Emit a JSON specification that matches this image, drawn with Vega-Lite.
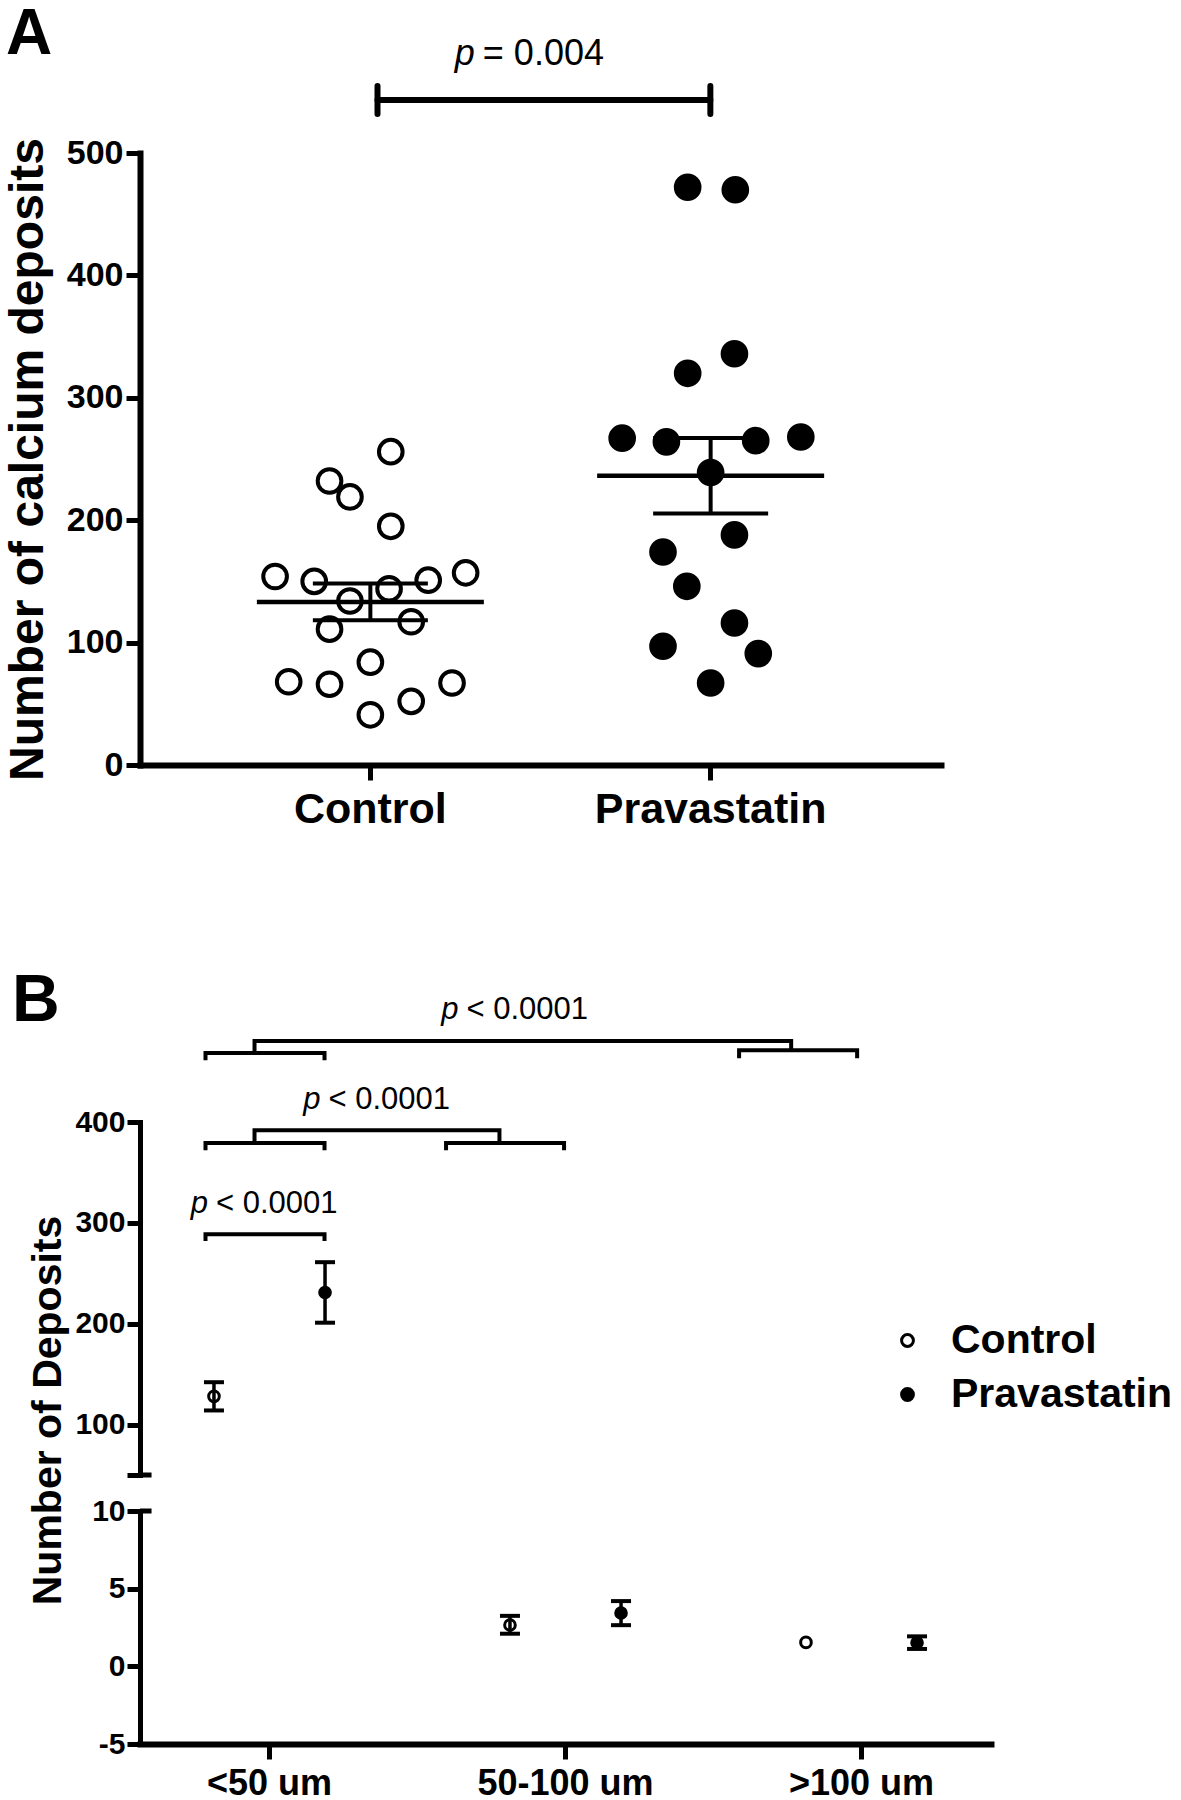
{
  "$schema": "https://vega.github.io/schema/vega-lite/v6.json",
  "background": "white",
  "padding": {"left": 4, "top": 2, "right": 3, "bottom": 0},
  "bounds": "flush",
  "spacing": 357,
  "resolve": {"scale": {"fill": "independent"}},
  "config": {
    "font": "Liberation Sans",
    "view": {"stroke": null},
    "axis": {"domainColor": "black", "tickColor": "black", "labelColor": "black", "titleColor": "black", "grid": false, "labelFontWeight": "bold", "titleFontWeight": "bold", "domainCap": "square", "labelOverlap": false, "labelLimit": 0}
  },
  "datasets": {
    "a": [
      {"group": "Control", "value": 256, "jitter": 0.12},
      {"group": "Control", "value": 232, "jitter": -0.24},
      {"group": "Control", "value": 219, "jitter": -0.12},
      {"group": "Control", "value": 195, "jitter": 0.12},
      {"group": "Control", "value": 154, "jitter": -0.56},
      {"group": "Control", "value": 150, "jitter": -0.33},
      {"group": "Control", "value": 144, "jitter": 0.11},
      {"group": "Control", "value": 151, "jitter": 0.34},
      {"group": "Control", "value": 157, "jitter": 0.56},
      {"group": "Control", "value": 134, "jitter": -0.12},
      {"group": "Control", "value": 111, "jitter": -0.24},
      {"group": "Control", "value": 117, "jitter": 0.24},
      {"group": "Control", "value": 84, "jitter": 0},
      {"group": "Control", "value": 68, "jitter": -0.48},
      {"group": "Control", "value": 66, "jitter": -0.24},
      {"group": "Control", "value": 67, "jitter": 0.48},
      {"group": "Control", "value": 52, "jitter": 0.24},
      {"group": "Control", "value": 41, "jitter": 0},
      {"group": "Pravastatin", "value": 472, "jitter": -0.135},
      {"group": "Pravastatin", "value": 470, "jitter": 0.145},
      {"group": "Pravastatin", "value": 320, "jitter": -0.135},
      {"group": "Pravastatin", "value": 336, "jitter": 0.14},
      {"group": "Pravastatin", "value": 267, "jitter": -0.52},
      {"group": "Pravastatin", "value": 264, "jitter": -0.26},
      {"group": "Pravastatin", "value": 265, "jitter": 0.265},
      {"group": "Pravastatin", "value": 268, "jitter": 0.53},
      {"group": "Pravastatin", "value": 239, "jitter": 0},
      {"group": "Pravastatin", "value": 188, "jitter": 0.14},
      {"group": "Pravastatin", "value": 174, "jitter": -0.28},
      {"group": "Pravastatin", "value": 146, "jitter": -0.14},
      {"group": "Pravastatin", "value": 116, "jitter": 0.14},
      {"group": "Pravastatin", "value": 97, "jitter": -0.28},
      {"group": "Pravastatin", "value": 91, "jitter": 0.28},
      {"group": "Pravastatin", "value": 67, "jitter": 0}
    ],
    "b": [
      {"size": "<50 um", "group": "Control", "mean": 128, "lo": 114, "hi": 142},
      {"size": "<50 um", "group": "Pravastatin", "mean": 231, "lo": 201, "hi": 261},
      {"size": "50-100 um", "group": "Control", "mean": 2.66, "lo": 2.1, "hi": 3.25},
      {"size": "50-100 um", "group": "Pravastatin", "mean": 3.43, "lo": 2.65, "hi": 4.2},
      {"size": ">100 um", "group": "Control", "mean": 1.54, "lo": null, "hi": null},
      {"size": ">100 um", "group": "Pravastatin", "mean": 1.52, "lo": 1.12, "hi": 1.93}
    ],
    "bbr": [
      {"id": 1, "k": 1, "x": -0.2156, "y": 281.9}, {"id": 1, "k": 2, "x": -0.2156, "y": 288.6}, {"id": 1, "k": 3, "x": 0.1867, "y": 288.6}, {"id": 1, "k": 4, "x": 0.1867, "y": 281.9},
      {"id": 2, "k": 1, "x": -0.2156, "y": 371.9}, {"id": 2, "k": 2, "x": -0.2156, "y": 379.2}, {"id": 2, "k": 3, "x": 0.1867, "y": 379.2}, {"id": 2, "k": 4, "x": 0.1867, "y": 371.9},
      {"id": 3, "k": 1, "x": 0.5975, "y": 371.9}, {"id": 3, "k": 2, "x": 0.5975, "y": 379.2}, {"id": 3, "k": 3, "x": 0.9964, "y": 379.2}, {"id": 3, "k": 4, "x": 0.9964, "y": 371.9},
      {"id": 4, "k": 1, "x": -0.0499, "y": 379.2}, {"id": 4, "k": 2, "x": -0.0499, "y": 391.8}, {"id": 4, "k": 3, "x": 0.778, "y": 391.8}, {"id": 4, "k": 4, "x": 0.778, "y": 379.2},
      {"id": 5, "k": 1, "x": -0.2156, "y": 461.2}, {"id": 5, "k": 2, "x": -0.2156, "y": 468.5}, {"id": 5, "k": 3, "x": 0.1867, "y": 468.5}, {"id": 5, "k": 4, "x": 0.1867, "y": 461.2},
      {"id": 6, "k": 1, "x": 1.588, "y": 463.2}, {"id": 6, "k": 2, "x": 1.588, "y": 471.1}, {"id": 6, "k": 3, "x": 1.987, "y": 471.1}, {"id": 6, "k": 4, "x": 1.987, "y": 463.2},
      {"id": 7, "k": 1, "x": -0.0499, "y": 468.5}, {"id": 7, "k": 2, "x": -0.0499, "y": 480.4}, {"id": 7, "k": 3, "x": 1.764, "y": 480.4}, {"id": 7, "k": 4, "x": 1.764, "y": 471.1}
    ],
    "bp": [
      {"x": -0.1936, "y": 309.4},
      {"x": 0.1867, "y": 413.3},
      {"x": 0.653, "y": 502.6}
    ]
  },
  "vconcat": [
    {
      "width": 801,
      "height": 612,
      "layer": [
        {
          "data": {"name": "a"},
          "layer": [
            {
              "mark": {"type": "point", "shape": "circle", "filled": true, "stroke": "black", "strokeWidth": 4, "size": 560, "opacity": 1},
              "encoding": {
                "x": {"field": "group", "type": "nominal", "scale": {"domain": ["Control", "Pravastatin"], "paddingInner": 0, "paddingOuter": 0.177},
                      "axis": {"title": null, "labelAngle": 0, "labelFontSize": 43, "labelPadding": 8, "tickSize": 15, "tickWidth": 5, "domainWidth": 6}},
                "xOffset": {"field": "jitter", "type": "quantitative", "scale": {"domain": [-1, 1], "nice": false, "zero": false}},
                "y": {"field": "value", "type": "quantitative", "title": "Number of calcium deposits", "scale": {"domain": [0, 500], "nice": false},
                      "axis": {"values": [0, 100, 200, 300, 400, 500], "labelFontSize": 34, "labelPadding": 3, "tickSize": 14, "tickWidth": 5, "domainWidth": 6, "titleFontSize": 48, "titleX": -98, "titleBaseline": "alphabetic"}},
                "fill": {"field": "group", "type": "nominal", "scale": {"domain": ["Control", "Pravastatin"], "range": ["white", "black"]}, "legend": null}
              }
            },
            {
              "mark": {"type": "tick", "orient": "horizontal", "size": 227, "thickness": 4.5, "color": "black", "opacity": 1},
              "encoding": {
                "x": {"field": "group", "type": "nominal", "scale": {"domain": ["Control", "Pravastatin"], "paddingInner": 0, "paddingOuter": 0.177}},
                "y": {"aggregate": "mean", "field": "value", "type": "quantitative", "title": "Number of calcium deposits", "scale": {"domain": [0, 500], "nice": false}}
              }
            },
            {
              "mark": {"type": "errorbar", "extent": "stderr", "color": "black", "opacity": 1, "ticks": {"size": 115, "thickness": 4, "color": "black", "opacity": 1}, "rule": {"strokeWidth": 4, "color": "black", "opacity": 1}},
              "encoding": {
                "x": {"field": "group", "type": "nominal", "scale": {"domain": ["Control", "Pravastatin"], "paddingInner": 0, "paddingOuter": 0.177}},
                "y": {"field": "value", "type": "quantitative", "title": "Number of calcium deposits", "scale": {"domain": [0, 500], "nice": false}}
              }
            }
          ]
        },
        {
          "data": {"values": [
            {"x": 0.0195, "x2": 0.9956, "y": 543.3, "y2": 543.3},
            {"x": 0.0195, "x2": 0.0195, "y": 531.9, "y2": 554.7},
            {"x": 0.9956, "x2": 0.9956, "y": 531.9, "y2": 554.7}
          ]},
          "mark": {"type": "rule", "color": "black", "strokeWidth": 6, "strokeCap": "round"},
          "encoding": {
            "x": {"field": "x", "type": "quantitative", "scale": {"domain": [-0.677, 1.672], "nice": false, "zero": false}, "axis": null},
            "x2": {"field": "x2"},
            "y": {"field": "y", "type": "quantitative", "title": "Number of calcium deposits", "scale": {"domain": [0, 500], "nice": false}},
            "y2": {"field": "y2"}
          }
        },
        {
          "data": {"values": [{"x": 0.3167, "y": 571.9}]},
          "layer": [
            {
              "mark": {"type": "text", "text": "p", "fontStyle": "italic", "fontSize": 36, "align": "right", "baseline": "alphabetic", "dx": -4, "color": "black"},
              "encoding": {
                "x": {"field": "x", "type": "quantitative", "scale": {"domain": [-0.677, 1.672], "nice": false, "zero": false}, "axis": null},
                "y": {"field": "y", "type": "quantitative", "title": "Number of calcium deposits", "scale": {"domain": [0, 500], "nice": false}}
              }
            },
            {
              "mark": {"type": "text", "text": "= 0.004", "fontSize": 36, "align": "left", "baseline": "alphabetic", "dx": 4, "color": "black"},
              "encoding": {
                "x": {"field": "x", "type": "quantitative", "scale": {"domain": [-0.677, 1.672], "nice": false, "zero": false}, "axis": null},
                "y": {"field": "y", "type": "quantitative", "title": "Number of calcium deposits", "scale": {"domain": [0, 500], "nice": false}}
              }
            }
          ]
        },
        {
          "data": {"values": [{"x": -1.07, "y": 580.9}]},
          "mark": {"type": "text", "text": "A", "fontSize": 64, "fontWeight": "bold", "align": "left", "baseline": "alphabetic", "color": "black"},
          "encoding": {
            "x": {"field": "x", "type": "quantitative", "scale": {"domain": [-0.677, 1.672], "nice": false, "zero": false}, "axis": null},
            "y": {"field": "y", "type": "quantitative", "title": "Number of calcium deposits", "scale": {"domain": [0, 500], "nice": false}}
          }
        }
      ],
      "resolve": {"scale": {"x": "independent"}}
    },
    {
      "bounds": "flush",
      "spacing": 36,
      "resolve": {"legend": {"fill": "independent"}},
      "vconcat": [
        {
          "width": 851,
          "height": 353,
          "layer": [
            {
              "data": {"name": "b"},
              "transform": [{"filter": "datum.mean >= 50"}],
              "layer": [
                {
                  "mark": {"type": "point", "shape": "circle", "filled": true, "stroke": "black", "strokeWidth": 3, "size": 113, "opacity": 1},
                  "encoding": {
                    "x": {"field": "size", "type": "nominal", "scale": {"domain": ["<50 um", "50-100 um", ">100 um"], "paddingInner": 0.14, "paddingOuter": 0.0075}, "axis": null},
                    "xOffset": {"field": "group", "type": "nominal", "scale": {"domain": ["Control", "Pravastatin"], "paddingInner": 0, "paddingOuter": 0.146}},
                    "y": {"field": "mean", "type": "quantitative", "title": null, "scale": {"domain": [50, 400], "nice": false, "zero": false},
                          "axis": {"values": [50, 100, 200, 300, 400], "labelExpr": "datum.value == 50 ? '' : datum.label", "labelFontSize": 30, "labelPadding": 2, "tickSize": 13, "tickWidth": 5, "domainWidth": 5}},
                    "fill": {"field": "group", "type": "nominal", "scale": {"domain": ["Control", "Pravastatin"], "range": ["white", "black"]},
                             "legend": {"orient": "none", "legendX": 747, "legendY": 198, "title": null, "labelFontSize": 41, "labelFontWeight": "bold", "labelColor": "black", "labelLimit": 0, "symbolType": "circle", "symbolSize": 140, "symbolStrokeColor": "black", "symbolStrokeWidth": 3, "labelOffset": 23, "rowPadding": 12, "symbolOpacity": 1}}
                  }
                },
                {
                  "transform": [{"filter": "datum.lo != null"}],
                  "mark": {"type": "rule", "color": "black", "strokeWidth": 3.5, "opacity": 1},
                  "encoding": {
                    "x": {"field": "size", "type": "nominal", "scale": {"domain": ["<50 um", "50-100 um", ">100 um"], "paddingInner": 0.14, "paddingOuter": 0.0075}, "axis": null},
                    "xOffset": {"field": "group", "type": "nominal", "scale": {"domain": ["Control", "Pravastatin"], "paddingInner": 0, "paddingOuter": 0.146}},
                    "y": {"field": "lo", "type": "quantitative", "title": null, "scale": {"domain": [50, 400], "nice": false, "zero": false}},
                    "y2": {"field": "hi"}
                  }
                },
                {
                  "transform": [{"filter": "datum.lo != null"}],
                  "mark": {"type": "tick", "orient": "horizontal", "size": 20, "thickness": 4, "color": "black", "opacity": 1},
                  "encoding": {
                    "x": {"field": "size", "type": "nominal", "scale": {"domain": ["<50 um", "50-100 um", ">100 um"], "paddingInner": 0.14, "paddingOuter": 0.0075}, "axis": null},
                    "xOffset": {"field": "group", "type": "nominal", "scale": {"domain": ["Control", "Pravastatin"], "paddingInner": 0, "paddingOuter": 0.146}},
                    "y": {"field": "lo", "type": "quantitative", "title": null, "scale": {"domain": [50, 400], "nice": false, "zero": false}}
                  }
                },
                {
                  "transform": [{"filter": "datum.hi != null"}],
                  "mark": {"type": "tick", "orient": "horizontal", "size": 20, "thickness": 4, "color": "black", "opacity": 1},
                  "encoding": {
                    "x": {"field": "size", "type": "nominal", "scale": {"domain": ["<50 um", "50-100 um", ">100 um"], "paddingInner": 0.14, "paddingOuter": 0.0075}, "axis": null},
                    "xOffset": {"field": "group", "type": "nominal", "scale": {"domain": ["Control", "Pravastatin"], "paddingInner": 0, "paddingOuter": 0.146}},
                    "y": {"field": "hi", "type": "quantitative", "title": null, "scale": {"domain": [50, 400], "nice": false, "zero": false}}
                  }
                }
              ]
            },
            {
              "data": {"name": "bbr"},
              "mark": {"type": "line", "color": "black", "strokeWidth": 4, "strokeJoin": "miter", "strokeCap": "butt"},
              "encoding": {
                "x": {"field": "x", "type": "quantitative", "scale": {"domain": [-0.437, 2.4395], "nice": false, "zero": false}, "axis": null},
                "y": {"field": "y", "type": "quantitative", "title": null, "scale": {"domain": [50, 400], "nice": false, "zero": false}},
                "detail": {"field": "id", "type": "nominal"},
                "order": {"field": "k", "type": "quantitative"}
              }
            },
            {
              "data": {"values": [{"x": -0.437, "x2": -0.398, "y": 50}]},
              "mark": {"type": "rule", "color": "black", "strokeWidth": 5},
              "encoding": {
                "x": {"field": "x", "type": "quantitative", "scale": {"domain": [-0.437, 2.4395], "nice": false, "zero": false}, "axis": null},
                "x2": {"field": "x2"},
                "y": {"field": "y", "type": "quantitative", "title": null, "scale": {"domain": [50, 400], "nice": false, "zero": false}}
              }
            },
            {
              "data": {"name": "bp"},
              "layer": [
                {
                  "mark": {"type": "text", "text": "p", "fontStyle": "italic", "fontSize": 31, "align": "right", "baseline": "alphabetic", "dx": -4, "color": "black"},
                  "encoding": {
                    "x": {"field": "x", "type": "quantitative", "scale": {"domain": [-0.437, 2.4395], "nice": false, "zero": false}, "axis": null},
                    "y": {"field": "y", "type": "quantitative", "title": null, "scale": {"domain": [50, 400], "nice": false, "zero": false}}
                  }
                },
                {
                  "mark": {"type": "text", "text": "< 0.0001", "fontSize": 31, "align": "left", "baseline": "alphabetic", "dx": 4, "color": "black"},
                  "encoding": {
                    "x": {"field": "x", "type": "quantitative", "scale": {"domain": [-0.437, 2.4395], "nice": false, "zero": false}, "axis": null},
                    "y": {"field": "y", "type": "quantitative", "title": null, "scale": {"domain": [50, 400], "nice": false, "zero": false}}
                  }
                }
              ]
            },
            {
              "data": {"values": [{"x": -0.87, "y": 500}]},
              "mark": {"type": "text", "text": "B", "fontSize": 66, "fontWeight": "bold", "align": "left", "baseline": "alphabetic", "color": "black"},
              "encoding": {
                "x": {"field": "x", "type": "quantitative", "scale": {"domain": [-0.437, 2.4395], "nice": false, "zero": false}, "axis": null},
                "y": {"field": "y", "type": "quantitative", "title": null, "scale": {"domain": [50, 400], "nice": false, "zero": false}}
              }
            }
          ],
          "resolve": {"scale": {"x": "independent"}}
        },
        {
          "width": 851,
          "height": 233,
          "layer": [
            {
              "data": {"name": "b"},
              "transform": [{"filter": "datum.mean <= 10"}],
              "layer": [
                {
                  "mark": {"type": "point", "shape": "circle", "filled": true, "stroke": "black", "strokeWidth": 3, "size": 113, "opacity": 1},
                  "encoding": {
                    "x": {"field": "size", "type": "nominal", "scale": {"domain": ["<50 um", "50-100 um", ">100 um"], "paddingInner": 0.14, "paddingOuter": 0.0075},
                          "axis": {"title": null, "labelAngle": 0, "labelFontSize": 36, "labelPadding": 7, "tickSize": 15, "tickWidth": 5, "domainWidth": 6}},
                    "xOffset": {"field": "group", "type": "nominal", "scale": {"domain": ["Control", "Pravastatin"], "paddingInner": 0, "paddingOuter": 0.146}},
                    "y": {"field": "mean", "type": "quantitative", "title": "Number of Deposits", "scale": {"domain": [-5, 10], "nice": false, "zero": false},
                          "axis": {"values": [-5, 0, 5, 10], "labelExpr": "datum.value + ''", "labelFontSize": 30, "labelPadding": 2, "tickSize": 13, "tickWidth": 5, "domainWidth": 5, "titleFontSize": 41, "titleX": -80, "titleY": -101, "titleBaseline": "alphabetic"}},
                    "fill": {"field": "group", "type": "nominal", "scale": {"domain": ["Control", "Pravastatin"], "range": ["white", "black"]}, "legend": null}
                  }
                },
                {
                  "transform": [{"filter": "datum.lo != null"}],
                  "mark": {"type": "rule", "color": "black", "strokeWidth": 3.5, "opacity": 1},
                  "encoding": {
                    "x": {"field": "size", "type": "nominal", "scale": {"domain": ["<50 um", "50-100 um", ">100 um"], "paddingInner": 0.14, "paddingOuter": 0.0075}},
                    "xOffset": {"field": "group", "type": "nominal", "scale": {"domain": ["Control", "Pravastatin"], "paddingInner": 0, "paddingOuter": 0.146}},
                    "y": {"field": "lo", "type": "quantitative", "title": "Number of Deposits", "scale": {"domain": [-5, 10], "nice": false, "zero": false}},
                    "y2": {"field": "hi"}
                  }
                },
                {
                  "transform": [{"filter": "datum.lo != null"}],
                  "mark": {"type": "tick", "orient": "horizontal", "size": 20, "thickness": 4, "color": "black", "opacity": 1},
                  "encoding": {
                    "x": {"field": "size", "type": "nominal", "scale": {"domain": ["<50 um", "50-100 um", ">100 um"], "paddingInner": 0.14, "paddingOuter": 0.0075}},
                    "xOffset": {"field": "group", "type": "nominal", "scale": {"domain": ["Control", "Pravastatin"], "paddingInner": 0, "paddingOuter": 0.146}},
                    "y": {"field": "lo", "type": "quantitative", "title": "Number of Deposits", "scale": {"domain": [-5, 10], "nice": false, "zero": false}}
                  }
                },
                {
                  "transform": [{"filter": "datum.hi != null"}],
                  "mark": {"type": "tick", "orient": "horizontal", "size": 20, "thickness": 4, "color": "black", "opacity": 1},
                  "encoding": {
                    "x": {"field": "size", "type": "nominal", "scale": {"domain": ["<50 um", "50-100 um", ">100 um"], "paddingInner": 0.14, "paddingOuter": 0.0075}},
                    "xOffset": {"field": "group", "type": "nominal", "scale": {"domain": ["Control", "Pravastatin"], "paddingInner": 0, "paddingOuter": 0.146}},
                    "y": {"field": "hi", "type": "quantitative", "title": "Number of Deposits", "scale": {"domain": [-5, 10], "nice": false, "zero": false}}
                  }
                }
              ]
            },
            {
              "data": {"values": [{"x": -0.437, "x2": -0.398, "y": 10}]},
              "mark": {"type": "rule", "color": "black", "strokeWidth": 5},
              "encoding": {
                "x": {"field": "x", "type": "quantitative", "scale": {"domain": [-0.437, 2.4395], "nice": false, "zero": false}, "axis": null},
                "x2": {"field": "x2"},
                "y": {"field": "y", "type": "quantitative", "title": "Number of Deposits", "scale": {"domain": [-5, 10], "nice": false, "zero": false}}
              }
            }
          ],
          "resolve": {"scale": {"x": "independent"}}
        }
      ]
    }
  ]
}
